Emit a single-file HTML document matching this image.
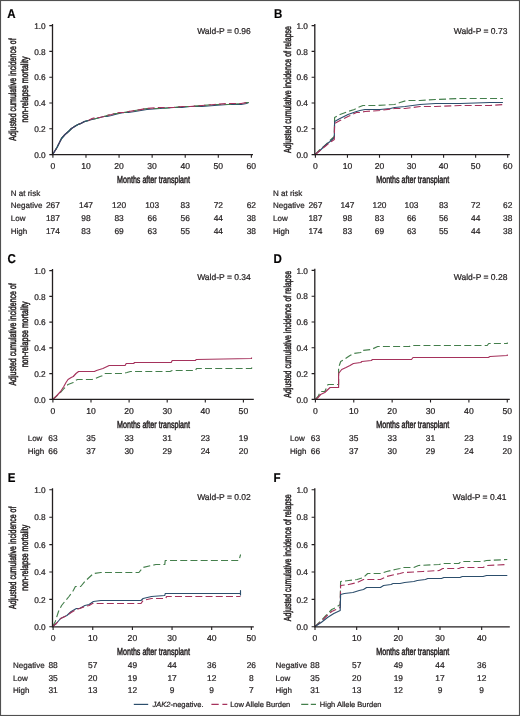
<!DOCTYPE html>
<html><head><meta charset="utf-8"><title>Figure</title>
<style>
html,body{margin:0;padding:0;background:#fff;}
body{width:520px;height:716px;overflow:hidden;font-family:"Liberation Sans",sans-serif;}
svg{display:block;text-rendering:geometricPrecision;will-change:transform;}
text{font-family:"Liberation Sans",sans-serif;stroke:#231f20;stroke-width:0.22px;}
text.c{stroke-width:0.5px;}
</style></head><body>
<svg width="520" height="716" viewBox="0 0 520 716" font-family="Liberation Sans, sans-serif" fill="#231f20">
<rect x="0" y="0" width="520" height="716" fill="#fff"/>
<polyline points="52.6,154.5 57.0,147.5 61.5,138.5 65.0,134.5 68.5,131.5 71.5,128.5 74.6,126.5 78.0,124.5 80.8,123.5 84.5,121.5 88.5,120.5 92.0,119.5 96.2,118.5 100.0,117.5 103.8,116.5 107.0,116.5 111.5,115.5 115.0,114.5 119.2,113.5 124.0,112.5 128.5,112.5 135.0,111.5 146.9,109.5 160.0,108.5 173.8,107.5 182.0,107.5 190.0,106.5 202.0,106.5 214.2,105.5 228.0,104.5 241.2,104.5 246.5,103.5 248.7,102.5" fill="none" stroke="#2c4e6c" stroke-width="1.15" stroke-linejoin="round"/>
<polyline points="52.6,154.5 57.0,147.5 61.5,138.5 65.0,134.5 68.5,131.5 71.5,128.5 74.6,126.5 78.0,124.5 80.8,123.5 84.5,121.5 88.5,120.5 92.0,119.5 96.2,118.5 100.0,117.5 103.8,116.5 107.0,115.5 111.5,114.5 115.0,113.5 119.2,113.5 124.0,112.5 128.5,111.5 135.0,110.5 146.9,108.5 160.0,108.5 173.8,107.5 182.0,106.5 190.0,106.5 202.0,105.5 214.2,104.5 228.0,104.5 241.2,103.5 246.5,102.5 248.7,102.5" fill="none" stroke="#447f4c" stroke-width="1.15" stroke-linejoin="round" stroke-dasharray="7 3.2" stroke-dashoffset="5"/>
<polyline points="52.6,154.5 57.0,147.5 61.5,138.5 65.0,134.5 68.5,131.5 71.5,128.5 74.6,126.5 78.0,124.5 80.8,123.5 84.5,121.5 88.5,120.5 92.0,118.5 96.2,117.5 100.0,117.5 103.8,116.5 107.0,115.5 111.5,114.5 115.0,113.5 119.2,112.5 124.0,112.5 128.5,111.5 135.0,110.5 146.9,108.5 160.0,107.5 173.8,107.5 182.0,106.5 190.0,106.5 202.0,105.5 214.2,104.5 228.0,103.5 241.2,103.5 246.5,102.5 248.7,101.5" fill="none" stroke="#a5325c" stroke-width="1.15" stroke-linejoin="round" stroke-dasharray="7 3.2"/>
<polyline points="52.6,154.5 57.0,147.5 61.5,138.5 65.0,134.5 68.5,131.5 71.5,128.5 74.6,126.5 78.0,124.5 80.8,123.5 84.5,121.5 88.5,120.5" fill="none" stroke="#2c4e6c" stroke-width="1.15" stroke-linejoin="round"/>
<path d="M52.50 24.00 V154.60 H253.00" fill="none" stroke="#231f20" stroke-width="1.3"/>
<text x="45.70" y="157.80" font-size="8.3" text-anchor="end" >0.0</text>
<text x="45.70" y="132.00" font-size="8.3" text-anchor="end" >0.2</text>
<text x="45.70" y="106.20" font-size="8.3" text-anchor="end" >0.4</text>
<text x="45.70" y="80.40" font-size="8.3" text-anchor="end" >0.6</text>
<text x="45.70" y="54.60" font-size="8.3" text-anchor="end" >0.8</text>
<text x="45.70" y="28.80" font-size="8.3" text-anchor="end" >1.0</text>
<text x="52.90" y="168.80" font-size="8.6" text-anchor="middle" >0</text>
<text x="85.98" y="168.80" font-size="8.6" text-anchor="middle" >10</text>
<text x="119.06" y="168.80" font-size="8.6" text-anchor="middle" >20</text>
<text x="152.14" y="168.80" font-size="8.6" text-anchor="middle" >30</text>
<text x="185.22" y="168.80" font-size="8.6" text-anchor="middle" >40</text>
<text x="218.30" y="168.80" font-size="8.6" text-anchor="middle" >50</text>
<text x="251.38" y="168.80" font-size="8.6" text-anchor="middle" >60</text>
<path d="M49.30 154.60 H52.50 M49.30 128.80 H52.50 M49.30 103.00 H52.50 M49.30 77.20 H52.50 M49.30 51.40 H52.50 M49.30 25.60 H52.50 M52.90 154.60 V157.80 M85.98 154.60 V157.80 M119.06 154.60 V157.80 M152.14 154.60 V157.80 M185.22 154.60 V157.80 M218.30 154.60 V157.80 M251.38 154.60 V157.80" stroke="#231f20" stroke-width="1.1"/>
<text transform="translate(7.20 17.50) scale(0.9 1)" font-size="12.8" font-weight="bold" fill="#000" stroke="#000" stroke-width="0.3">A</text>
<text x="250.80" y="34.20" font-size="8.5" text-anchor="end" >Wald-P = 0.96</text>
<text transform="translate(153.50 182.80) scale(0.6998 1)" font-size="10.2" text-anchor="middle" class="c">Months after transplant</text>
<text transform="translate(16.30 89.50) rotate(-90) scale(0.6900 1)" font-size="10.2" text-anchor="middle" class="c">Adjusted cumulative incidence of</text>
<text transform="translate(27.70 89.50) rotate(-90) scale(0.6930 1)" font-size="10.2" text-anchor="middle" class="c">non-relapse mortality</text>
<polyline points="315.2,154.5 320.0,149.5 325.0,145.5 330.0,140.5 334.3,136.5 334.6,117.5 340.0,114.5 348.0,111.5 354.4,109.5 358.0,107.5 362.9,105.5 375.0,105.5 394.6,104.5 400.0,102.5 406.6,100.5 420.0,100.5 435.4,99.5 460.0,98.5 490.0,98.5 502.9,98.5" fill="none" stroke="#447f4c" stroke-width="1.15" stroke-linejoin="round" stroke-dasharray="7 3.2"/>
<polyline points="315.2,154.5 320.0,150.5 325.0,145.5 330.0,141.5 334.3,137.5 334.6,121.5 340.0,118.5 348.0,114.5 356.5,111.5 360.0,110.5 365.0,109.5 380.0,109.5 390.4,108.5 394.6,107.5 405.0,106.5 420.0,104.5 435.4,103.5 460.0,103.5 490.0,102.5 502.9,102.5" fill="none" stroke="#2c4e6c" stroke-width="1.15" stroke-linejoin="round"/>
<polyline points="315.2,154.5 320.0,150.5 325.0,146.5 330.0,142.5 334.3,139.5 334.6,123.5 340.0,120.5 348.0,116.5 356.5,112.5 360.0,112.5 365.0,111.5 380.0,110.5 394.6,108.5 405.0,108.5 420.0,106.5 435.4,106.5 460.0,105.5 490.0,105.5 502.9,104.5" fill="none" stroke="#a5325c" stroke-width="1.15" stroke-linejoin="round" stroke-dasharray="7 3.2"/>
<path d="M314.80 24.00 V154.60 H509.80" fill="none" stroke="#231f20" stroke-width="1.3"/>
<text x="308.00" y="157.80" font-size="8.3" text-anchor="end" >0.0</text>
<text x="308.00" y="132.00" font-size="8.3" text-anchor="end" >0.2</text>
<text x="308.00" y="106.20" font-size="8.3" text-anchor="end" >0.4</text>
<text x="308.00" y="80.40" font-size="8.3" text-anchor="end" >0.6</text>
<text x="308.00" y="54.60" font-size="8.3" text-anchor="end" >0.8</text>
<text x="308.00" y="28.80" font-size="8.3" text-anchor="end" >1.0</text>
<text x="315.40" y="168.80" font-size="8.6" text-anchor="middle" >0</text>
<text x="347.45" y="168.80" font-size="8.6" text-anchor="middle" >10</text>
<text x="379.50" y="168.80" font-size="8.6" text-anchor="middle" >20</text>
<text x="411.55" y="168.80" font-size="8.6" text-anchor="middle" >30</text>
<text x="443.60" y="168.80" font-size="8.6" text-anchor="middle" >40</text>
<text x="475.65" y="168.80" font-size="8.6" text-anchor="middle" >50</text>
<text x="507.70" y="168.80" font-size="8.6" text-anchor="middle" >60</text>
<path d="M311.60 154.60 H314.80 M311.60 128.80 H314.80 M311.60 103.00 H314.80 M311.60 77.20 H314.80 M311.60 51.40 H314.80 M311.60 25.60 H314.80 M315.40 154.60 V157.80 M347.45 154.60 V157.80 M379.50 154.60 V157.80 M411.55 154.60 V157.80 M443.60 154.60 V157.80 M475.65 154.60 V157.80 M507.70 154.60 V157.80" stroke="#231f20" stroke-width="1.1"/>
<text transform="translate(273.90 17.50) scale(0.9 1)" font-size="12.8" font-weight="bold" fill="#000" stroke="#000" stroke-width="0.3">B</text>
<text x="507.40" y="34.20" font-size="8.5" text-anchor="end" >Wald-P = 0.73</text>
<text transform="translate(412.70 182.80) scale(0.6998 1)" font-size="10.2" text-anchor="middle" class="c">Months after transplant</text>
<text transform="translate(290.50 89.50) rotate(-90) scale(0.6871 1)" font-size="10.2" text-anchor="middle" class="c">Adjusted cumulative incidence of relapse</text>
<polyline points="52.6,399.5 56.0,396.5 60.6,392.5 64.0,388.5 68.0,384.5 73.3,382.5 75.5,380.5 77.5,379.5 92.3,379.5 95.5,378.5 100.0,376.5 102.9,375.5 105.0,373.5 123.0,373.5 127.0,372.5 130.4,371.5 132.5,371.5 170.0,371.5 172.2,370.5 195.5,370.5 196.5,368.5 251.5,368.5 251.9,367.5" fill="none" stroke="#447f4c" stroke-width="1.15" stroke-linejoin="round" stroke-dasharray="7 3.2"/>
<polyline points="52.6,399.5 56.0,396.5 60.6,391.5 63.8,386.5 66.0,382.5 68.0,379.5 71.2,377.5 73.3,376.5 76.0,373.5 78.6,371.5 94.4,371.5 96.5,370.5 102.9,368.5 105.0,367.5 109.2,365.5 125.1,365.5 126.2,363.5 133.6,363.5 134.6,362.5 171.2,362.5 172.2,360.5 195.5,360.5 196.1,359.5 251.5,358.5 251.5,357.5" fill="none" stroke="#a5325c" stroke-width="1.15" stroke-linejoin="round"/>
<path d="M52.50 269.00 V399.40 H253.80" fill="none" stroke="#231f20" stroke-width="1.3"/>
<text x="45.70" y="402.60" font-size="8.3" text-anchor="end" >0.0</text>
<text x="45.70" y="376.84" font-size="8.3" text-anchor="end" >0.2</text>
<text x="45.70" y="351.08" font-size="8.3" text-anchor="end" >0.4</text>
<text x="45.70" y="325.32" font-size="8.3" text-anchor="end" >0.6</text>
<text x="45.70" y="299.56" font-size="8.3" text-anchor="end" >0.8</text>
<text x="45.70" y="273.80" font-size="8.3" text-anchor="end" >1.0</text>
<text x="52.90" y="413.80" font-size="8.6" text-anchor="middle" >0</text>
<text x="91.00" y="413.80" font-size="8.6" text-anchor="middle" >10</text>
<text x="129.10" y="413.80" font-size="8.6" text-anchor="middle" >20</text>
<text x="167.20" y="413.80" font-size="8.6" text-anchor="middle" >30</text>
<text x="205.30" y="413.80" font-size="8.6" text-anchor="middle" >40</text>
<text x="243.40" y="413.80" font-size="8.6" text-anchor="middle" >50</text>
<path d="M49.30 399.40 H52.50 M49.30 373.64 H52.50 M49.30 347.88 H52.50 M49.30 322.12 H52.50 M49.30 296.36 H52.50 M49.30 270.60 H52.50 M52.90 399.40 V402.60 M91.00 399.40 V402.60 M129.10 399.40 V402.60 M167.20 399.40 V402.60 M205.30 399.40 V402.60 M243.40 399.40 V402.60" stroke="#231f20" stroke-width="1.1"/>
<text transform="translate(7.40 263.30) scale(0.9 1)" font-size="12.8" font-weight="bold" fill="#000" stroke="#000" stroke-width="0.3">C</text>
<text x="250.80" y="279.70" font-size="8.5" text-anchor="end" >Wald-P = 0.34</text>
<text transform="translate(153.50 427.80) scale(0.6998 1)" font-size="10.2" text-anchor="middle" class="c">Months after transplant</text>
<text transform="translate(16.30 334.40) rotate(-90) scale(0.6900 1)" font-size="10.2" text-anchor="middle" class="c">Adjusted cumulative incidence of</text>
<text transform="translate(27.70 334.40) rotate(-90) scale(0.6930 1)" font-size="10.2" text-anchor="middle" class="c">non-relapse mortality</text>
<polyline points="315.4,399.5 318.0,396.5 320.6,391.5 324.8,391.5 328.0,384.5 338.6,384.5 338.6,367.5 340.7,361.5 344.0,359.5 347.0,357.5 350.0,355.5 353.4,353.5 360.8,352.5 361.8,350.5 371.3,349.5 377.7,346.5 409.4,346.5 411.5,345.5 487.2,345.5 488.7,343.5 507.3,343.5 507.3,342.5" fill="none" stroke="#447f4c" stroke-width="1.15" stroke-linejoin="round" stroke-dasharray="7 3.2"/>
<polyline points="315.4,399.5 318.0,397.5 320.6,394.5 324.8,392.5 329.0,388.5 330.1,387.5 338.6,387.5 338.6,373.5 341.7,369.5 346.0,367.5 350.0,365.5 353.4,363.5 360.8,362.5 361.8,361.5 371.3,360.5 372.5,359.5 378.8,359.5 411.5,359.5 413.0,357.5 488.3,357.5 490.0,356.5 507.3,355.5 507.3,354.5" fill="none" stroke="#a5325c" stroke-width="1.15" stroke-linejoin="round"/>
<path d="M314.80 268.80 V399.40 H509.80" fill="none" stroke="#231f20" stroke-width="1.3"/>
<text x="308.00" y="402.60" font-size="8.3" text-anchor="end" >0.0</text>
<text x="308.00" y="376.80" font-size="8.3" text-anchor="end" >0.2</text>
<text x="308.00" y="351.00" font-size="8.3" text-anchor="end" >0.4</text>
<text x="308.00" y="325.20" font-size="8.3" text-anchor="end" >0.6</text>
<text x="308.00" y="299.40" font-size="8.3" text-anchor="end" >0.8</text>
<text x="308.00" y="273.60" font-size="8.3" text-anchor="end" >1.0</text>
<text x="315.40" y="413.80" font-size="8.6" text-anchor="middle" >0</text>
<text x="353.77" y="413.80" font-size="8.6" text-anchor="middle" >10</text>
<text x="392.15" y="413.80" font-size="8.6" text-anchor="middle" >20</text>
<text x="430.52" y="413.80" font-size="8.6" text-anchor="middle" >30</text>
<text x="468.90" y="413.80" font-size="8.6" text-anchor="middle" >40</text>
<text x="507.27" y="413.80" font-size="8.6" text-anchor="middle" >50</text>
<path d="M311.60 399.40 H314.80 M311.60 373.60 H314.80 M311.60 347.80 H314.80 M311.60 322.00 H314.80 M311.60 296.20 H314.80 M311.60 270.40 H314.80 M315.40 399.40 V402.60 M353.77 399.40 V402.60 M392.15 399.40 V402.60 M430.52 399.40 V402.60 M468.90 399.40 V402.60 M507.27 399.40 V402.60" stroke="#231f20" stroke-width="1.1"/>
<text transform="translate(273.60 263.30) scale(0.9 1)" font-size="12.8" font-weight="bold" fill="#000" stroke="#000" stroke-width="0.3">D</text>
<text x="507.40" y="279.70" font-size="8.5" text-anchor="end" >Wald-P = 0.28</text>
<text transform="translate(412.70 427.80) scale(0.6998 1)" font-size="10.2" text-anchor="middle" class="c">Months after transplant</text>
<text transform="translate(290.50 334.30) rotate(-90) scale(0.6871 1)" font-size="10.2" text-anchor="middle" class="c">Adjusted cumulative incidence of relapse</text>
<polyline points="52.6,626.5 55.3,621.5 58.5,611.5 61.6,605.5 64.8,601.5 69.0,596.5 73.3,590.5 75.4,586.5 80.7,586.5 84.9,581.5 89.1,577.5 93.4,573.5 100.8,572.5 138.9,572.5 143.1,567.5 151.5,565.5 155.8,564.5 164.8,564.5 165.2,560.5 238.9,560.5 240.6,554.5" fill="none" stroke="#447f4c" stroke-width="1.15" stroke-linejoin="round" stroke-dasharray="7 3.2"/>
<polyline points="52.6,626.5 56.3,623.5 60.6,618.5 66.9,615.5 71.2,611.5 76.4,608.5 79.6,608.5 84.9,605.5 89.1,604.5 93.4,601.5 100.8,600.5 141.0,600.5 143.1,598.5 151.5,596.5 164.8,595.5 165.2,593.5 240.5,593.5 240.5,590.5 240.5,595.5" fill="none" stroke="#2c4e6c" stroke-width="1.15" stroke-linejoin="round"/>
<polyline points="52.6,626.5 56.3,623.5 60.6,618.5 66.9,615.5 71.2,612.5 76.4,609.5 79.6,608.5 84.9,606.5 89.1,605.5 92.5,603.5 94.4,603.5 141.0,603.5 143.1,600.5 151.5,598.5 165.9,598.5 166.5,596.5 240.5,596.5" fill="none" stroke="#a5325c" stroke-width="1.15" stroke-linejoin="round" stroke-dasharray="7 3.2"/>
<path d="M52.50 488.20 V626.80 H253.80" fill="none" stroke="#231f20" stroke-width="1.3"/>
<text x="45.70" y="630.00" font-size="8.3" text-anchor="end" >0.0</text>
<text x="45.70" y="602.60" font-size="8.3" text-anchor="end" >0.2</text>
<text x="45.70" y="575.20" font-size="8.3" text-anchor="end" >0.4</text>
<text x="45.70" y="547.80" font-size="8.3" text-anchor="end" >0.6</text>
<text x="45.70" y="520.40" font-size="8.3" text-anchor="end" >0.8</text>
<text x="45.70" y="493.00" font-size="8.3" text-anchor="end" >1.0</text>
<text x="53.10" y="640.80" font-size="8.6" text-anchor="middle" >0</text>
<text x="92.75" y="640.80" font-size="8.6" text-anchor="middle" >10</text>
<text x="132.40" y="640.80" font-size="8.6" text-anchor="middle" >20</text>
<text x="172.05" y="640.80" font-size="8.6" text-anchor="middle" >30</text>
<text x="211.70" y="640.80" font-size="8.6" text-anchor="middle" >40</text>
<text x="251.35" y="640.80" font-size="8.6" text-anchor="middle" >50</text>
<path d="M49.30 626.80 H52.50 M49.30 599.40 H52.50 M49.30 572.00 H52.50 M49.30 544.60 H52.50 M49.30 517.20 H52.50 M49.30 489.80 H52.50 M53.10 626.80 V630.00 M92.75 626.80 V630.00 M132.40 626.80 V630.00 M172.05 626.80 V630.00 M211.70 626.80 V630.00 M251.35 626.80 V630.00" stroke="#231f20" stroke-width="1.1"/>
<text transform="translate(7.80 482.00) scale(0.9 1)" font-size="12.8" font-weight="bold" fill="#000" stroke="#000" stroke-width="0.3">E</text>
<text x="250.80" y="500.00" font-size="8.5" text-anchor="end" >Wald-P = 0.02</text>
<text transform="translate(153.50 654.80) scale(0.6998 1)" font-size="10.2" text-anchor="middle" class="c">Months after transplant</text>
<text transform="translate(16.30 557.70) rotate(-90) scale(0.6900 1)" font-size="10.2" text-anchor="middle" class="c">Adjusted cumulative incidence of</text>
<text transform="translate(27.70 557.70) rotate(-90) scale(0.6930 1)" font-size="10.2" text-anchor="middle" class="c">non-relapse mortality</text>
<polyline points="315.0,626.5 321.2,620.5 326.0,615.5 331.7,609.5 336.0,607.5 340.2,604.5 340.6,581.5 348.7,580.5 357.1,579.5 363.5,577.5 367.7,573.5 380.4,573.5 386.7,571.5 395.2,569.5 400.0,568.5 403.5,567.5 413.8,567.5 418.5,565.5 439.2,564.5 442.7,563.5 458.8,563.5 461.2,561.5 483.1,561.5 486.5,560.5 507.3,559.5" fill="none" stroke="#447f4c" stroke-width="1.15" stroke-linejoin="round" stroke-dasharray="7 3.2"/>
<polyline points="315.0,626.5 321.2,621.5 326.0,616.5 331.7,611.5 336.0,609.5 340.2,607.5 340.6,585.5 348.7,584.5 357.1,582.5 363.5,579.5 380.4,579.5 386.7,576.5 395.2,574.5 400.0,573.5 403.5,572.5 423.0,571.5 439.2,570.5 442.7,568.5 458.8,568.5 461.2,567.5 483.1,567.5 486.5,565.5 507.3,564.5" fill="none" stroke="#a5325c" stroke-width="1.15" stroke-linejoin="round" stroke-dasharray="7 3.2"/>
<polyline points="315.0,626.5 321.2,622.5 327.5,617.5 333.8,613.5 340.2,610.5 340.6,594.5 344.4,593.5 352.9,592.5 359.2,590.5 363.5,589.5 366.6,587.5 380.4,587.5 383.6,585.5 391.0,584.5 393.1,583.5 400.0,583.5 404.6,582.5 413.8,581.5 417.3,580.5 425.4,579.5 427.7,578.5 441.5,578.5 443.8,577.5 460.0,577.5 462.3,576.5 483.1,576.5 486.5,575.5 507.3,575.5" fill="none" stroke="#2c4e6c" stroke-width="1.15" stroke-linejoin="round"/>
<path d="M314.80 488.20 V626.80 H509.80" fill="none" stroke="#231f20" stroke-width="1.3"/>
<text x="308.00" y="630.00" font-size="8.3" text-anchor="end" >0.0</text>
<text x="308.00" y="602.60" font-size="8.3" text-anchor="end" >0.2</text>
<text x="308.00" y="575.20" font-size="8.3" text-anchor="end" >0.4</text>
<text x="308.00" y="547.80" font-size="8.3" text-anchor="end" >0.6</text>
<text x="308.00" y="520.40" font-size="8.3" text-anchor="end" >0.8</text>
<text x="308.00" y="493.00" font-size="8.3" text-anchor="end" >1.0</text>
<text x="315.00" y="640.80" font-size="8.6" text-anchor="middle" >0</text>
<text x="356.67" y="640.80" font-size="8.6" text-anchor="middle" >10</text>
<text x="398.34" y="640.80" font-size="8.6" text-anchor="middle" >20</text>
<text x="440.01" y="640.80" font-size="8.6" text-anchor="middle" >30</text>
<text x="481.68" y="640.80" font-size="8.6" text-anchor="middle" >40</text>
<path d="M311.60 626.80 H314.80 M311.60 599.40 H314.80 M311.60 572.00 H314.80 M311.60 544.60 H314.80 M311.60 517.20 H314.80 M311.60 489.80 H314.80 M315.00 626.80 V630.00 M356.67 626.80 V630.00 M398.34 626.80 V630.00 M440.01 626.80 V630.00 M481.68 626.80 V630.00" stroke="#231f20" stroke-width="1.1"/>
<text transform="translate(273.60 482.00) scale(0.9 1)" font-size="12.8" font-weight="bold" fill="#000" stroke="#000" stroke-width="0.3">F</text>
<text x="506.50" y="500.00" font-size="8.5" text-anchor="end" >Wald-P = 0.41</text>
<text transform="translate(412.70 654.80) scale(0.6998 1)" font-size="10.2" text-anchor="middle" class="c">Months after transplant</text>
<text transform="translate(290.50 557.70) rotate(-90) scale(0.6871 1)" font-size="10.2" text-anchor="middle" class="c">Adjusted cumulative incidence of relapse</text>
<text x="10.80" y="195.60" font-size="8.0" text-anchor="start" >N at risk</text>
<text x="10.80" y="208.00" font-size="8.0" text-anchor="start" >Negative</text>
<text x="52.90" y="208.00" font-size="8.4" text-anchor="middle" >267</text>
<text x="85.98" y="208.00" font-size="8.4" text-anchor="middle" >147</text>
<text x="119.06" y="208.00" font-size="8.4" text-anchor="middle" >120</text>
<text x="152.14" y="208.00" font-size="8.4" text-anchor="middle" >103</text>
<text x="185.22" y="208.00" font-size="8.4" text-anchor="middle" >83</text>
<text x="218.30" y="208.00" font-size="8.4" text-anchor="middle" >72</text>
<text x="251.38" y="208.00" font-size="8.4" text-anchor="middle" >62</text>
<text x="10.80" y="220.80" font-size="8.0" text-anchor="start" >Low</text>
<text x="52.90" y="220.80" font-size="8.4" text-anchor="middle" >187</text>
<text x="85.98" y="220.80" font-size="8.4" text-anchor="middle" >98</text>
<text x="119.06" y="220.80" font-size="8.4" text-anchor="middle" >83</text>
<text x="152.14" y="220.80" font-size="8.4" text-anchor="middle" >66</text>
<text x="185.22" y="220.80" font-size="8.4" text-anchor="middle" >56</text>
<text x="218.30" y="220.80" font-size="8.4" text-anchor="middle" >44</text>
<text x="251.38" y="220.80" font-size="8.4" text-anchor="middle" >38</text>
<text x="10.80" y="233.50" font-size="8.0" text-anchor="start" >High</text>
<text x="52.90" y="233.50" font-size="8.4" text-anchor="middle" >174</text>
<text x="85.98" y="233.50" font-size="8.4" text-anchor="middle" >83</text>
<text x="119.06" y="233.50" font-size="8.4" text-anchor="middle" >69</text>
<text x="152.14" y="233.50" font-size="8.4" text-anchor="middle" >63</text>
<text x="185.22" y="233.50" font-size="8.4" text-anchor="middle" >55</text>
<text x="218.30" y="233.50" font-size="8.4" text-anchor="middle" >44</text>
<text x="251.38" y="233.50" font-size="8.4" text-anchor="middle" >38</text>
<text x="273.00" y="195.60" font-size="8.0" text-anchor="start" >N at risk</text>
<text x="273.00" y="208.00" font-size="8.0" text-anchor="start" >Negative</text>
<text x="315.40" y="208.00" font-size="8.4" text-anchor="middle" >267</text>
<text x="347.45" y="208.00" font-size="8.4" text-anchor="middle" >147</text>
<text x="379.50" y="208.00" font-size="8.4" text-anchor="middle" >120</text>
<text x="411.55" y="208.00" font-size="8.4" text-anchor="middle" >103</text>
<text x="443.60" y="208.00" font-size="8.4" text-anchor="middle" >83</text>
<text x="475.65" y="208.00" font-size="8.4" text-anchor="middle" >72</text>
<text x="507.70" y="208.00" font-size="8.4" text-anchor="middle" >62</text>
<text x="273.00" y="220.80" font-size="8.0" text-anchor="start" >Low</text>
<text x="315.40" y="220.80" font-size="8.4" text-anchor="middle" >187</text>
<text x="347.45" y="220.80" font-size="8.4" text-anchor="middle" >98</text>
<text x="379.50" y="220.80" font-size="8.4" text-anchor="middle" >83</text>
<text x="411.55" y="220.80" font-size="8.4" text-anchor="middle" >66</text>
<text x="443.60" y="220.80" font-size="8.4" text-anchor="middle" >56</text>
<text x="475.65" y="220.80" font-size="8.4" text-anchor="middle" >44</text>
<text x="507.70" y="220.80" font-size="8.4" text-anchor="middle" >38</text>
<text x="273.00" y="233.50" font-size="8.0" text-anchor="start" >High</text>
<text x="315.40" y="233.50" font-size="8.4" text-anchor="middle" >174</text>
<text x="347.45" y="233.50" font-size="8.4" text-anchor="middle" >83</text>
<text x="379.50" y="233.50" font-size="8.4" text-anchor="middle" >69</text>
<text x="411.55" y="233.50" font-size="8.4" text-anchor="middle" >63</text>
<text x="443.60" y="233.50" font-size="8.4" text-anchor="middle" >55</text>
<text x="475.65" y="233.50" font-size="8.4" text-anchor="middle" >44</text>
<text x="507.70" y="233.50" font-size="8.4" text-anchor="middle" >38</text>
<text x="27.70" y="441.00" font-size="8.0" text-anchor="start" >Low</text>
<text x="52.90" y="441.00" font-size="8.4" text-anchor="middle" >63</text>
<text x="91.00" y="441.00" font-size="8.4" text-anchor="middle" >35</text>
<text x="129.10" y="441.00" font-size="8.4" text-anchor="middle" >33</text>
<text x="167.20" y="441.00" font-size="8.4" text-anchor="middle" >31</text>
<text x="205.30" y="441.00" font-size="8.4" text-anchor="middle" >23</text>
<text x="243.40" y="441.00" font-size="8.4" text-anchor="middle" >19</text>
<text x="27.70" y="453.50" font-size="8.0" text-anchor="start" >High</text>
<text x="52.90" y="453.50" font-size="8.4" text-anchor="middle" >66</text>
<text x="91.00" y="453.50" font-size="8.4" text-anchor="middle" >37</text>
<text x="129.10" y="453.50" font-size="8.4" text-anchor="middle" >30</text>
<text x="167.20" y="453.50" font-size="8.4" text-anchor="middle" >29</text>
<text x="205.30" y="453.50" font-size="8.4" text-anchor="middle" >24</text>
<text x="243.40" y="453.50" font-size="8.4" text-anchor="middle" >20</text>
<text x="290.00" y="441.00" font-size="8.0" text-anchor="start" >Low</text>
<text x="315.40" y="441.00" font-size="8.4" text-anchor="middle" >63</text>
<text x="353.77" y="441.00" font-size="8.4" text-anchor="middle" >35</text>
<text x="392.15" y="441.00" font-size="8.4" text-anchor="middle" >33</text>
<text x="430.52" y="441.00" font-size="8.4" text-anchor="middle" >31</text>
<text x="468.90" y="441.00" font-size="8.4" text-anchor="middle" >23</text>
<text x="507.27" y="441.00" font-size="8.4" text-anchor="middle" >19</text>
<text x="290.00" y="453.50" font-size="8.0" text-anchor="start" >High</text>
<text x="315.40" y="453.50" font-size="8.4" text-anchor="middle" >66</text>
<text x="353.77" y="453.50" font-size="8.4" text-anchor="middle" >37</text>
<text x="392.15" y="453.50" font-size="8.4" text-anchor="middle" >30</text>
<text x="430.52" y="453.50" font-size="8.4" text-anchor="middle" >29</text>
<text x="468.90" y="453.50" font-size="8.4" text-anchor="middle" >24</text>
<text x="507.27" y="453.50" font-size="8.4" text-anchor="middle" >20</text>
<text x="13.00" y="668.10" font-size="8.0" text-anchor="start" >Negative</text>
<text x="53.10" y="668.10" font-size="8.4" text-anchor="middle" >88</text>
<text x="92.75" y="668.10" font-size="8.4" text-anchor="middle" >57</text>
<text x="132.40" y="668.10" font-size="8.4" text-anchor="middle" >49</text>
<text x="172.05" y="668.10" font-size="8.4" text-anchor="middle" >44</text>
<text x="211.70" y="668.10" font-size="8.4" text-anchor="middle" >36</text>
<text x="251.35" y="668.10" font-size="8.4" text-anchor="middle" >26</text>
<text x="13.00" y="680.70" font-size="8.0" text-anchor="start" >Low</text>
<text x="53.10" y="680.70" font-size="8.4" text-anchor="middle" >35</text>
<text x="92.75" y="680.70" font-size="8.4" text-anchor="middle" >20</text>
<text x="132.40" y="680.70" font-size="8.4" text-anchor="middle" >19</text>
<text x="172.05" y="680.70" font-size="8.4" text-anchor="middle" >17</text>
<text x="211.70" y="680.70" font-size="8.4" text-anchor="middle" >12</text>
<text x="251.35" y="680.70" font-size="8.4" text-anchor="middle" >8</text>
<text x="13.00" y="693.40" font-size="8.0" text-anchor="start" >High</text>
<text x="53.10" y="693.40" font-size="8.4" text-anchor="middle" >31</text>
<text x="92.75" y="693.40" font-size="8.4" text-anchor="middle" >13</text>
<text x="132.40" y="693.40" font-size="8.4" text-anchor="middle" >12</text>
<text x="172.05" y="693.40" font-size="8.4" text-anchor="middle" >9</text>
<text x="211.70" y="693.40" font-size="8.4" text-anchor="middle" >9</text>
<text x="251.35" y="693.40" font-size="8.4" text-anchor="middle" >7</text>
<text x="275.50" y="668.10" font-size="8.0" text-anchor="start" >Negative</text>
<text x="315.00" y="668.10" font-size="8.4" text-anchor="middle" >88</text>
<text x="356.67" y="668.10" font-size="8.4" text-anchor="middle" >57</text>
<text x="398.34" y="668.10" font-size="8.4" text-anchor="middle" >49</text>
<text x="440.01" y="668.10" font-size="8.4" text-anchor="middle" >44</text>
<text x="481.68" y="668.10" font-size="8.4" text-anchor="middle" >36</text>
<text x="275.50" y="680.70" font-size="8.0" text-anchor="start" >Low</text>
<text x="315.00" y="680.70" font-size="8.4" text-anchor="middle" >35</text>
<text x="356.67" y="680.70" font-size="8.4" text-anchor="middle" >20</text>
<text x="398.34" y="680.70" font-size="8.4" text-anchor="middle" >19</text>
<text x="440.01" y="680.70" font-size="8.4" text-anchor="middle" >17</text>
<text x="481.68" y="680.70" font-size="8.4" text-anchor="middle" >12</text>
<text x="275.50" y="693.40" font-size="8.0" text-anchor="start" >High</text>
<text x="315.00" y="693.40" font-size="8.4" text-anchor="middle" >31</text>
<text x="356.67" y="693.40" font-size="8.4" text-anchor="middle" >13</text>
<text x="398.34" y="693.40" font-size="8.4" text-anchor="middle" >12</text>
<text x="440.01" y="693.40" font-size="8.4" text-anchor="middle" >9</text>
<text x="481.68" y="693.40" font-size="8.4" text-anchor="middle" >9</text>
<path d="M133.8 704.4 H148.2" stroke="#2c4e6c" stroke-width="1.2"/>
<text x="152.6" y="707.3" font-size="7.5"><tspan font-style="italic">JAK2</tspan>-negative.</text>
<path d="M211.4 704.4 H218.7 M222.4 704.4 H227.3" stroke="#a5325c" stroke-width="1.2"/>
<text x="230.20" y="707.30" font-size="7.5" text-anchor="start" >Low Allele Burden</text>
<path d="M301.2 704.4 H308.3 M310.8 704.4 H316" stroke="#447f4c" stroke-width="1.2"/>
<text x="319.80" y="707.30" font-size="7.5" text-anchor="start" >High Allele Burden</text>
<rect x="0.5" y="0.5" width="519" height="715" fill="none" stroke="#505050" stroke-width="1.15"/>
</svg>
</body></html>
